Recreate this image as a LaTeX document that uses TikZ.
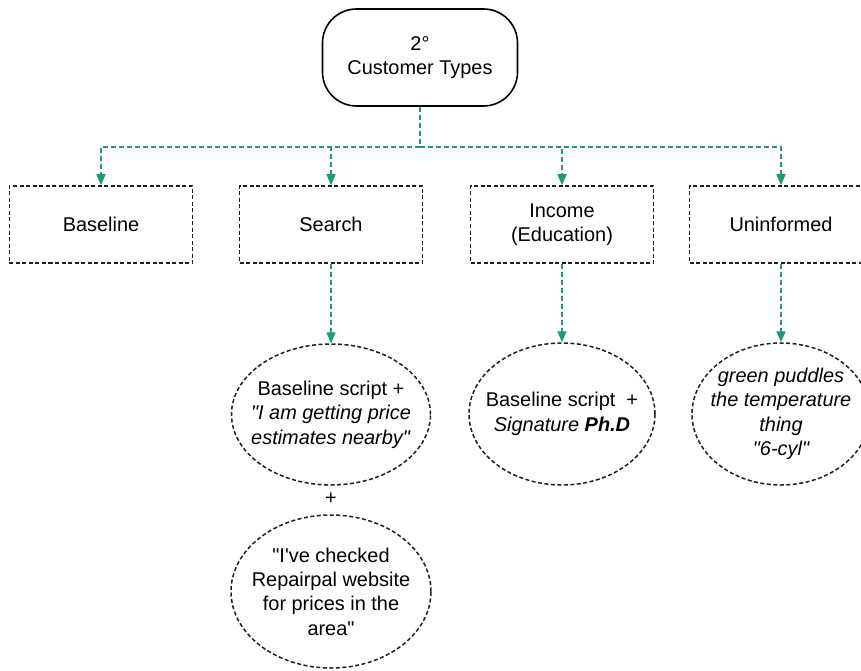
\documentclass[tikz,border=0pt]{standalone}
\usepackage{fontspec}
\setmainfont{Liberation Sans}[Ligatures=TeXOff]
\usetikzlibrary{arrows.meta,shapes.geometric}
\definecolor{conncol}{HTML}{1A9B7E}
\definecolor{dashcol}{HTML}{1E1E1E}
\begin{document}
\begin{tikzpicture}[x=1bp,y=-1bp,
  font=\fontsize{20}{24.5}\selectfont,
  topbox/.style={draw=black, line width=1.6bp, rounded corners=34bp,
    minimum width=195bp, minimum height=97bp, align=center, inner sep=0pt},
  catbox/.style={draw=dashcol, dash pattern=on 4bp off 2.5bp, line width=1.5bp,
    minimum width=183bp, minimum height=77bp, align=center, inner sep=0pt},
  ellbox/.style={ellipse, draw=dashcol, dash pattern=on 4bp off 2.5bp,
    line width=1.5bp, inner sep=0pt},
  txt/.style={align=center, inner sep=0pt},
  link/.style={draw=conncol, line width=1.6bp, dash pattern=on 5bp off 3bp},
  conn/.style={link, -{Triangle[length=11bp,width=9bp]}}
]
\clip (0,0) rectangle (861,671);
\fill[white] (0,0) rectangle (861,671);

% top node
\node[topbox] (top) at (420,57.5) {2°\\Customer Types};

% category boxes
\node[catbox] (base) at (101,224.5) {Baseline};
\node[catbox] (search) at (331,224.5) {Search};
\node[catbox] (income) at (562,224.5) {Income\\(Education)};
\node[catbox] (unin) at (781,224.5) {Uninformed};

% ellipses
\node[ellbox, minimum width=199bp, minimum height=141bp] (e1) at (331,414.5) {};
\node[txt] (e1t) at (e1.center) {Baseline script +\\\textit{"I am getting price}\\\textit{estimates nearby"}};

\node[txt] (plus) at (331,499) {+};

\node[ellbox, minimum width=200bp, minimum height=153bp] (e2) at (331,591.5) {};
\node[txt] (e2t) at (e2.center) {"I've checked\\Repairpal website\\for prices in the\\area"};

\node[ellbox, minimum width=186bp, minimum height=142bp] (e3) at (562,414) {};
\node[txt] (e3t) at (e3.center) {Baseline script\ \ +\\\textit{Signature \textbf{Ph.D}}};

\node[ellbox, minimum width=178bp, minimum height=142bp] (e4) at (781,414) {};
\node[txt] (e4t) at (e4.center) {\itshape green puddles\\\itshape the temperature\\\itshape thing\\\itshape "6-cyl"};

% connectors
\coordinate (J) at (420,147);
\draw[link] (top.south) -- (J);
\draw[conn] (J) -| (base.north);
\draw[conn] (J) -| (search.north);
\draw[conn] (J) -| (income.north);
\draw[conn] (J) -| (unin.north);

\draw[conn] (search.south) -- (e1.north);
\draw[conn] (income.south) -- (e3.north);
\draw[conn] (unin.south) -- (e4.north);
\end{tikzpicture}
\end{document}
